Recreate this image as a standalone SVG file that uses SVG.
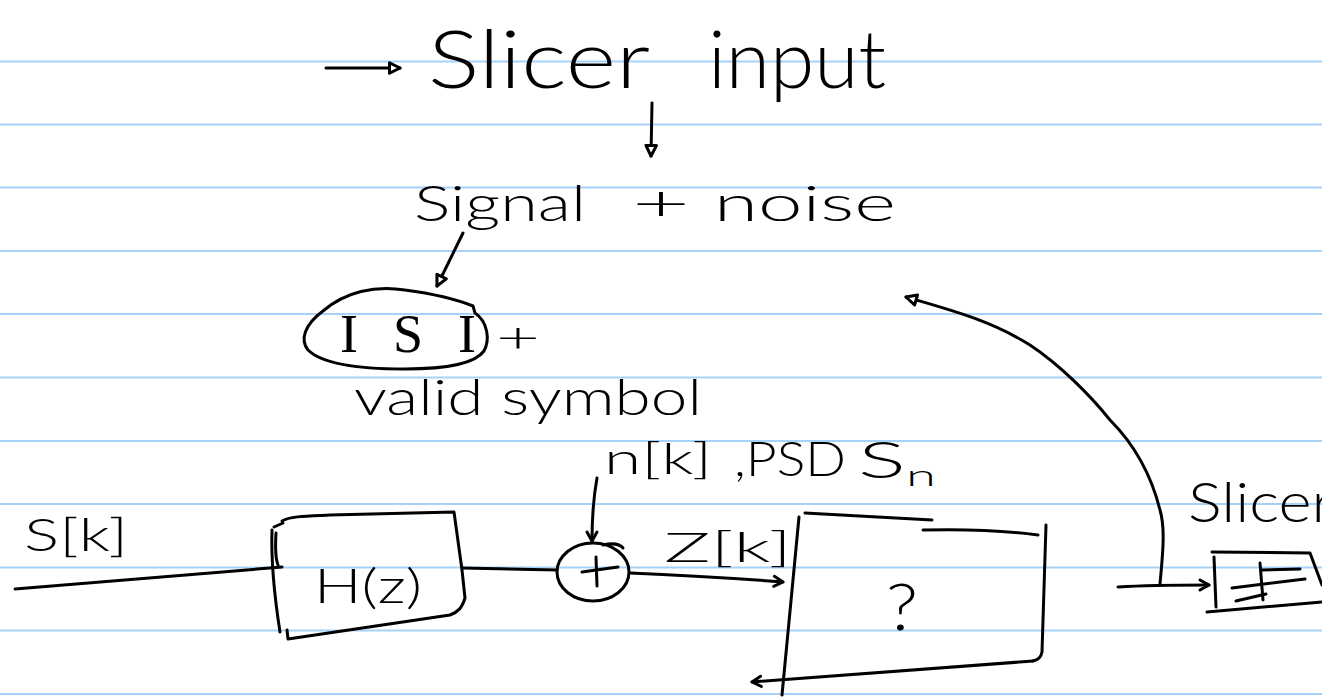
<svg xmlns="http://www.w3.org/2000/svg" width="1322" height="697" viewBox="0 0 1322 697">
<style>
.rule{stroke:#a6d2fa;stroke-width:2.2}
.ink{fill:none;stroke:#000;stroke-width:3;stroke-linecap:round;stroke-linejoin:round}
.t{font-family:Lato,"Open Sans","DejaVu Sans",sans-serif;font-weight:300;fill:#000}
.s{font-family:"Liberation Serif","DejaVu Serif",serif;font-weight:normal;fill:#000}
</style>
<defs>
<marker id="tri" viewBox="0 0 12 12" refX="10" refY="6" markerWidth="14" markerHeight="14" orient="auto" markerUnits="userSpaceOnUse" style="overflow:visible">
<path d="M1,1.5 L10,6 L1,10.5 Z" fill="#fff" stroke="#000" stroke-width="2.6" stroke-linejoin="round"/>
</marker>
<marker id="barb" viewBox="0 0 12 12" refX="11" refY="6" markerWidth="12" markerHeight="12" orient="auto" markerUnits="userSpaceOnUse" style="overflow:visible">
<path d="M2,1 L11,6 L2,11" fill="none" stroke="#000" stroke-width="3" stroke-linecap="round" stroke-linejoin="round"/>
</marker>
</defs>
<rect width="1322" height="697" fill="#fff"/>
<g id="rules">
<line class="rule" x1="0" y1="61.5" x2="1322" y2="61.5"/>
<line class="rule" x1="0" y1="124.5" x2="1322" y2="124.5"/>
<line class="rule" x1="0" y1="187.5" x2="1322" y2="187.5"/>
<line class="rule" x1="0" y1="251" x2="1322" y2="251"/>
<line class="rule" x1="0" y1="314" x2="1322" y2="314"/>
<line class="rule" x1="0" y1="377.5" x2="1322" y2="377.5"/>
<line class="rule" x1="0" y1="441" x2="1322" y2="441"/>
<line class="rule" x1="0" y1="504" x2="1322" y2="504"/>
<line class="rule" x1="0" y1="567.5" x2="1322" y2="567.5"/>
<line class="rule" x1="0" y1="630.5" x2="1322" y2="630.5"/>
<line class="rule" x1="0" y1="694" x2="1322" y2="694"/>
</g>

<g id="slicer-input">
<text class="t" font-size="80" y="88"><tspan x="428" textLength="222" lengthAdjust="spacingAndGlyphs">Slicer</tspan><tspan x="708" textLength="178" lengthAdjust="spacingAndGlyphs">input</tspan></text>
</g>
<g id="signal-noise">
<text class="t" font-size="50" y="221"><tspan x="414" textLength="172" lengthAdjust="spacingAndGlyphs">Signal</tspan><tspan x="632" textLength="58" lengthAdjust="spacingAndGlyphs">+</tspan><tspan x="714" textLength="182" lengthAdjust="spacingAndGlyphs">noise</tspan></text>
</g>
<g id="isi">
<path class="ink" d="M323,311 C345,292 375,285 405,290 C435,294 458,300 473,306 L475,313 C488,322 490,340 484,351 C476,362 452,369 405,369 C360,369 322,364 308,350 C300,340 304,325 323,311"/>
<text y="352"><tspan class="s" font-size="54" x="340" textLength="136" lengthAdjust="spacing">ISI</tspan><tspan class="t" x="496" font-size="42" textLength="44" lengthAdjust="spacingAndGlyphs">+</tspan></text>
</g>
<g id="valid-symbol">
<text class="t" font-size="50" x="354" y="415" textLength="348" lengthAdjust="spacingAndGlyphs">valid symbol</text>
</g>
<g id="noise-label">
<text class="t" font-size="44" y="474"><tspan x="604" textLength="108" lengthAdjust="spacingAndGlyphs">n[k]</tspan><tspan x="734" font-size="48" dy="2" textLength="112" lengthAdjust="spacingAndGlyphs">,PSD</tspan><tspan x="858" font-size="52" dy="2" textLength="48" lengthAdjust="spacingAndGlyphs">S</tspan><tspan x="906" font-size="30" dy="8" textLength="30" lengthAdjust="spacingAndGlyphs">n</tspan></text>
</g>
<g id="sk-label">
<text class="t" font-size="46" x="24" y="551" textLength="104" lengthAdjust="spacingAndGlyphs">S[k]</text>
</g>
<g id="hz-block">
<path class="ink" d="M282,521 C290,516 310,516 330,515 L454,512 L462,570 L465,598 C462,608 458,612 450,615 L288,639 L287,630"/>
<path class="ink" d="M272,530 C271,560 275,600 280,632"/>
<path class="ink" d="M274,527 L283,523 M276,533 C275,550 276,560 278,565"/>
<text class="t" font-size="48" x="314" y="603" textLength="108" lengthAdjust="spacingAndGlyphs">H(z)</text>
</g>
<g id="adder">
<ellipse class="ink" cx="593" cy="572" rx="36" ry="29"/>
<path class="ink" d="M603,545 C612,543 620,544 623,548"/>
<path class="ink" d="M582,572 L618,567 M596,557 L597,586"/>
</g>
<g id="zk-label">
<text class="t" font-size="42" x="664" y="562" textLength="128" lengthAdjust="spacingAndGlyphs">Z[k]</text>
</g>
<g id="unknown-block">
<path class="ink" d="M799,517 L782,695"/>
<path class="ink" d="M805,513 L932,520 M923,530 C960,529 1000,530 1038,535"/>
<path class="ink" d="M1046,525 L1042,652 C1041,658 1038,660 1033,661"/>
<text class="t" font-size="66" x="886" y="630" textLength="32" lengthAdjust="spacingAndGlyphs">?</text>
</g>
<g id="slicer-block">
<text class="t" font-size="56" x="1188" y="522" textLength="146" lengthAdjust="spacingAndGlyphs">Slicer</text>
<path class="ink" d="M1212,552 L1310,553 L1322,585"/>
<path class="ink" d="M1214,557 L1216,607"/>
<path class="ink" d="M1207,612 L1322,602"/>
<path class="ink" d="M1260,563 L1263,600 M1262,570 L1300,569 M1232,588 L1305,579 M1236,601 L1266,594"/>
</g>
<g id="connectors">
<path class="ink" d="M326,68 L400,68" marker-end="url(#tri)"/>
<path class="ink" d="M652,103 L651,156" marker-end="url(#tri)"/>
<path class="ink" d="M463,233 L437,286" marker-end="url(#tri)"/>
<path class="ink" d="M15,589 L282,567"/>
<path class="ink" d="M463,568 L557,570"/>
<path class="ink" d="M597,478 C593,500 592,520 592,541" marker-end="url(#barb)"/>
<path class="ink" d="M630,573 C680,575 730,578 783,582" marker-end="url(#barb)"/>
<path class="ink" d="M1033,661 L752,682" marker-end="url(#barb)"/>
<path class="ink" d="M1118,587 C1150,585 1180,585 1209,585" marker-end="url(#barb)"/>
<path class="ink" d="M1160,584 C1162,560 1166,530 1160,510 C1150,470 1130,440 1110,420 C1090,395 1060,365 1030,345 C990,320 950,310 906,297" marker-end="url(#tri)"/>
</g>
</svg>
